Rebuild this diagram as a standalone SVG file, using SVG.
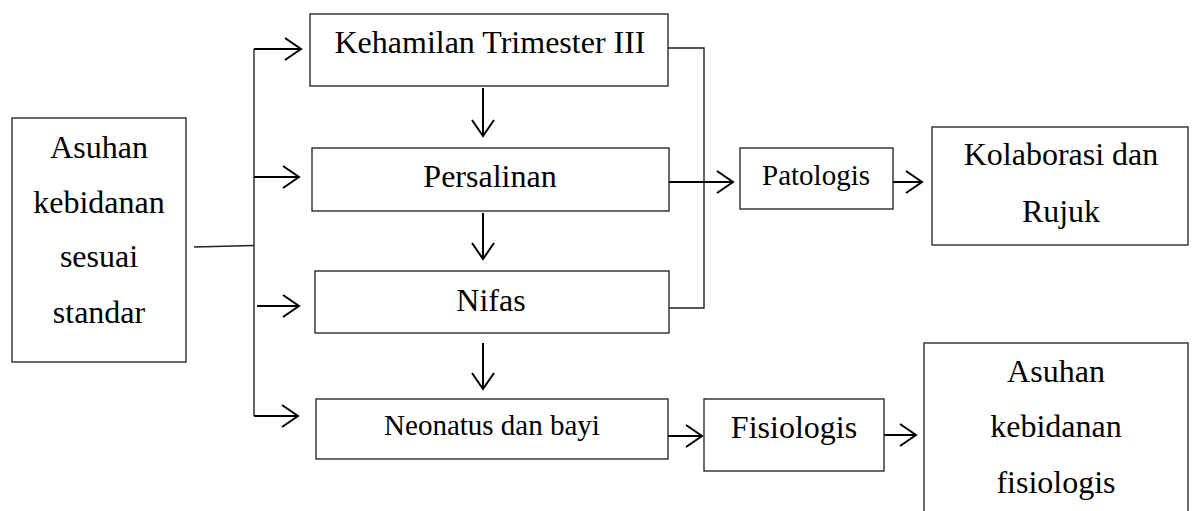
<svg xmlns="http://www.w3.org/2000/svg" width="1195" height="511" viewBox="0 0 1195 511">
<defs>
<style>
.box{fill:#fff;stroke:#2a2a2a;stroke-width:1.4}
.t{font-family:"Liberation Serif","Times New Roman",serif;font-size:32px;fill:#000;text-anchor:middle}
.s{font-size:29px}
.ln{fill:none;stroke:#222;stroke-width:1.4}
.ar{fill:none;stroke:#000;stroke-width:2;marker-end:url(#ah)}
</style>
<marker id="ah" markerUnits="userSpaceOnUse" markerWidth="24" markerHeight="28" refX="18" refY="12" orient="auto" viewBox="0 0 24 24">
<path d="M2,1 L18,12 L2,23" fill="none" stroke="#000" stroke-width="2"/>
</marker>
</defs>
<rect width="1195" height="511" fill="#fff"/>
<g id="connectors">
<path class="ln" d="M194,247 L254,245.5"/>
<path class="ln" d="M254,49 L254,416"/>
<path class="ar" d="M254,49 L301,49"/>
<path class="ar" d="M254,177 L299,177"/>
<path class="ar" d="M257,306 L299,306"/>
<path class="ar" d="M254,416 L298,416"/>
<path class="ar" d="M483,88 L483,136"/>
<path class="ar" d="M483,213 L483,259"/>
<path class="ar" d="M483,343 L483,389"/>
<path class="ln" d="M668,48 L704,48 L704,308 L668,308"/>
<path class="ar" d="M669,182 L733,182"/>
<path class="ar" d="M893,182 L922,182"/>
<path class="ar" d="M668,436 L702,436"/>
<path class="ar" d="M884,435 L916,435"/>
</g>
<g id="asuhan-standar">
<rect class="box" x="12" y="118" width="174" height="244"/>
<text class="t" x="99" y="158">Asuhan</text>
<text class="t" x="99" y="213">kebidanan</text>
<text class="t" x="99" y="267">sesuai</text>
<text class="t" x="99" y="323">standar</text>
</g>
<g id="kehamilan">
<rect class="box" x="310" y="14" width="358" height="72"/>
<text class="t" x="490" y="53">Kehamilan Trimester III</text>
</g>
<g id="persalinan">
<rect class="box" x="312" y="148" width="357" height="63"/>
<text class="t" x="490" y="187">Persalinan</text>
</g>
<g id="nifas">
<rect class="box" x="315" y="271" width="354" height="62"/>
<text class="t" x="491" y="311">Nifas</text>
</g>
<g id="neonatus">
<rect class="box" x="316" y="399" width="352" height="60"/>
<text class="t s" x="492" y="435">Neonatus dan bayi</text>
</g>
<g id="patologis">
<rect class="box" x="740" y="148" width="153" height="61"/>
<text class="t s" x="816" y="185">Patologis</text>
</g>
<g id="kolaborasi">
<rect class="box" x="932" y="127" width="256" height="118"/>
<text class="t" x="1061" y="165">Kolaborasi dan</text>
<text class="t" x="1061" y="222">Rujuk</text>
</g>
<g id="fisiologis">
<rect class="box" x="704" y="399" width="180" height="72"/>
<text class="t" x="794" y="438">Fisiologis</text>
</g>
<g id="asuhan-fisiologis">
<rect class="box" x="924" y="343" width="264" height="180"/>
<text class="t" x="1056" y="382">Asuhan</text>
<text class="t" x="1056" y="437">kebidanan</text>
<text class="t" x="1056" y="493">fisiologis</text>
</g>
</svg>
